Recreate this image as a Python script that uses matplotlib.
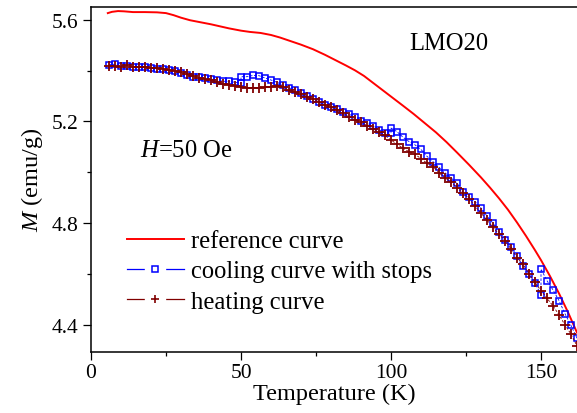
import matplotlib
matplotlib.use("Agg")
import matplotlib.pyplot as plt
from matplotlib.ticker import MultipleLocator
from matplotlib.lines import Line2D
from matplotlib.legend_handler import HandlerTuple

plt.rcParams['font.family'] = ['Liberation Serif', 'DejaVu Serif']
plt.rcParams['mathtext.fontset'] = 'custom'
plt.rcParams['mathtext.it'] = 'Liberation Serif:italic'
plt.rcParams['mathtext.rm'] = 'Liberation Serif'

# Reference curve (red line)
ref_T = [5.6, 7, 9, 11, 14, 18, 22, 25, 27.5, 30, 33, 36.5, 40, 43, 46, 50, 53, 56.5,
         60, 63, 66.5, 70, 74, 78, 81, 85, 88, 91, 94, 97, 100, 104, 107.5, 111, 115,
         118.5, 122, 126, 130, 133, 136, 139, 142, 145, 148, 150, 153, 156, 159, 162]
ref_M = [5.626, 5.631, 5.634, 5.633, 5.630, 5.630, 5.629, 5.626, 5.618, 5.608, 5.598,
         5.590, 5.582, 5.574, 5.566, 5.557, 5.552, 5.548, 5.540, 5.530, 5.516, 5.502,
         5.484, 5.462, 5.444, 5.420, 5.401, 5.379, 5.352, 5.325, 5.298, 5.262, 5.230,
         5.196, 5.157, 5.119, 5.078, 5.030, 4.980, 4.940, 4.898, 4.853, 4.803, 4.750,
         4.694, 4.655, 4.592, 4.524, 4.450, 4.370]

# Cooling curve with stops (in measurement order, from high T to low T)
cool_T = [162, 160, 158, 156, 154, 152, 150, 150, 148, 146, 144, 142, 140, 138, 136,
          134, 132, 130, 128, 126, 124, 122, 120, 118, 116, 114, 112, 110, 108, 106,
          104, 102, 100, 100, 98, 96, 94, 92, 90, 88, 86, 84, 82, 80, 78, 76, 74, 72,
          70, 68, 66, 64, 62, 60, 58, 56, 54, 52, 50, 50, 48, 46, 44, 42, 40, 38, 36,
          34, 32, 30, 28, 26, 24, 22, 20, 18, 16, 14, 12, 10, 8, 6]
cool_M = [4.348, 4.398, 4.444, 4.496, 4.538, 4.574, 4.620, 4.518, 4.565, 4.601, 4.631,
          4.670, 4.708, 4.736, 4.767, 4.800, 4.828, 4.860, 4.885, 4.902, 4.922, 4.958,
          4.978, 4.998, 5.020, 5.042, 5.063, 5.090, 5.108, 5.121, 5.138, 5.160, 5.174,
          5.155, 5.155, 5.168, 5.181, 5.194, 5.203, 5.216, 5.229, 5.238, 5.249, 5.258,
          5.266, 5.275, 5.290, 5.300, 5.312, 5.325, 5.332, 5.343, 5.354, 5.363, 5.371,
          5.380, 5.381, 5.376, 5.376, 5.350, 5.354, 5.358, 5.358, 5.363, 5.366, 5.370,
          5.373, 5.376, 5.384, 5.390, 5.397, 5.402, 5.405, 5.408, 5.411, 5.415, 5.413,
          5.414, 5.418, 5.420, 5.425, 5.423]

# Heating curve
heat_T = [6, 8, 10, 12, 14, 16, 18, 20, 22, 24, 26, 28, 30, 32, 34, 36, 38, 40, 42, 44,
          46, 48, 50, 52, 54, 56, 58, 60, 62, 64, 66, 68, 70, 72, 74, 76, 78, 80, 82, 84,
          86, 88, 90, 92, 94, 96, 98, 100, 102, 104, 106, 108, 110, 112, 114, 116, 118,
          120, 122, 124, 126, 128, 130, 132, 134, 136, 138, 140, 142, 144, 146, 148, 150,
          152, 154, 156, 158, 160, 162]
heat_M = [5.419, 5.418, 5.416, 5.421, 5.413, 5.413, 5.415, 5.410, 5.410, 5.406, 5.402,
          5.400, 5.393, 5.385, 5.380, 5.372, 5.367, 5.363, 5.354, 5.347, 5.344, 5.341,
          5.334, 5.332, 5.332, 5.332, 5.334, 5.337, 5.341, 5.337, 5.325, 5.315, 5.307,
          5.296, 5.288, 5.277, 5.264, 5.255, 5.244, 5.232, 5.219, 5.206, 5.196, 5.184,
          5.171, 5.157, 5.145, 5.127, 5.111, 5.095, 5.081, 5.071, 5.054, 5.036, 5.023,
          4.999, 4.977, 4.963, 4.940, 4.918, 4.897, 4.867, 4.840, 4.812, 4.784, 4.757,
          4.731, 4.699, 4.665, 4.639, 4.601, 4.568, 4.535, 4.505, 4.475, 4.440, 4.400,
          4.364, 4.318]

labels = ["reference curve", "cooling curve with stops", "heating curve"]
x_ticks = [0, 50, 100, 150]
y_ticks = [4.4, 4.8, 5.2, 5.6]

RED = '#ff0000'
BLUE = '#0000ff'
DRED = '#800000'

fig = plt.figure(figsize=(5.77, 4.14), dpi=100)
ax = fig.add_axes([91/577, 1 - 352.7/414, (577 - 91)/577, (352.7 - 8)/414])

ax.plot(ref_T, ref_M, color=RED, lw=1.4, zorder=2)
ax.plot(cool_T, cool_M, color=BLUE, lw=0.6, ls=(0, (3, 2)), marker='s', ms=4.6,
        mfc='none', mec=BLUE, mew=1.1, zorder=3)
ax.plot(heat_T, heat_M, color=DRED, lw=0.6, ls=(0, (3, 2)), marker='+', ms=6.5,
        mew=1.3, zorder=4)

ax.set_xlim(0, 162)
ax.set_ylim(4.295, 5.65)
ax.set_xticks(x_ticks)
ax.set_yticks(y_ticks)
ax.xaxis.set_minor_locator(MultipleLocator(25))
ax.yaxis.set_minor_locator(MultipleLocator(0.2))
ax.tick_params(which='major', direction='out', length=6, width=0.9, labelsize=15.5, pad=2)
ax.tick_params(which='minor', direction='out', length=3, width=0.9)
ax.tick_params(axis='y', which='major', pad=3)
ax.spines['right'].set_visible(False)
for s in ['left', 'bottom', 'top']:
    ax.spines[s].set_linewidth(1.1)

ax.set_xlabel("Temperature (K)", fontsize=17.5, labelpad=1)
ax.set_ylabel(r"$M$ (emu/g)", fontsize=17.5, labelpad=5)

ax.text(0.654, 0.878, "LMO20", transform=ax.transAxes, fontsize=17.7, va='baseline', ha='left')
ax.text(0.101, 0.568, r"$H$=50 Oe", transform=ax.transAxes, fontsize=17.7, va='baseline', ha='left')

# Origin-style legend handles: solid line with a gap around the marker
h_ref = Line2D([], [], color=RED, lw=1.4)
h_cool = (Line2D([], [], color=BLUE, lw=0.9),
          Line2D([], [], ls='none', marker='s', ms=14, mfc='white', mec='white'),
          Line2D([], [], ls='none', marker='s', ms=4.2, mfc='none', mec=BLUE, mew=1.1))
h_heat = (Line2D([], [], color=DRED, lw=0.9),
          Line2D([], [], ls='none', marker='s', ms=14, mfc='white', mec='white'),
          Line2D([], [], ls='none', marker='+', ms=6, mec=DRED, mew=1.2))
leg = ax.legend([h_ref, h_cool, h_heat], labels, loc='center left',
                bbox_to_anchor=(0.074, 0.233), frameon=False,
                fontsize=17.7, borderpad=0, borderaxespad=0, handlelength=2.3,
                handletextpad=0.3, labelspacing=0.33, numpoints=1,
                handler_map={tuple: HandlerTuple(ndivide=1, pad=0)})

fig.savefig("out.png", dpi=100)
